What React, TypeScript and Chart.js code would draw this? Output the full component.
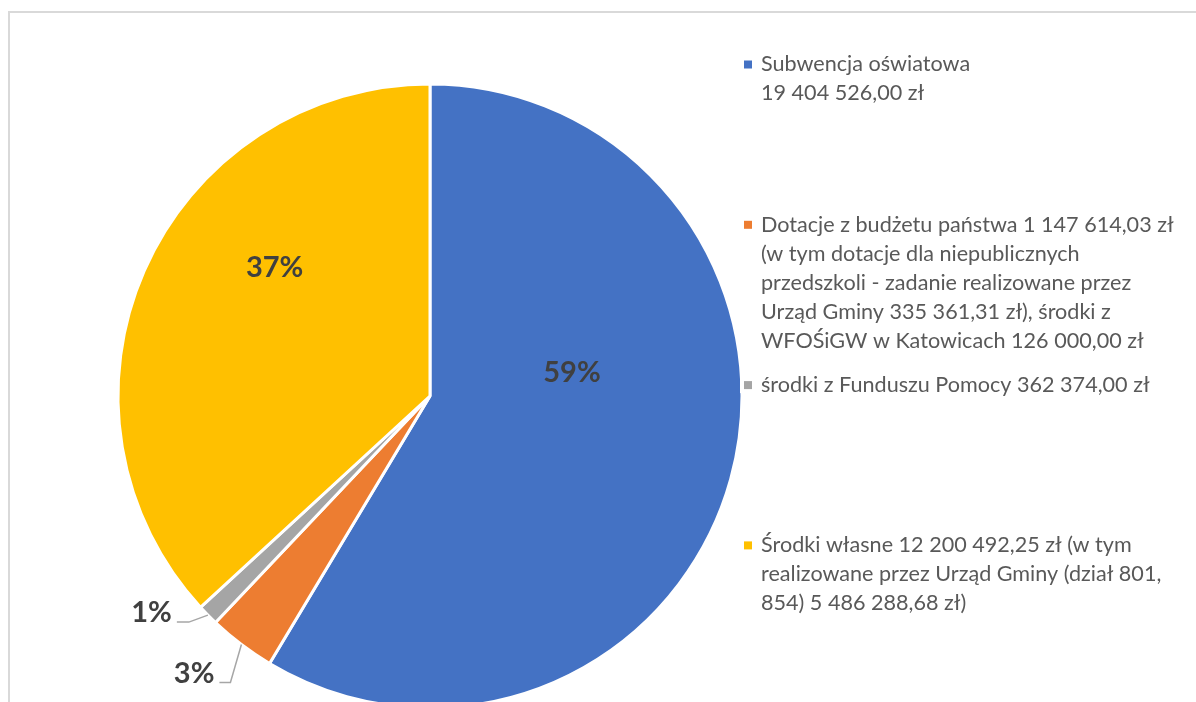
import React, { useEffect, useRef } from "react";
import { Chart, registerables } from "chart.js";

Chart.register(...registerables);

// ---- data ----
const categories: string[] = [
  "Subwencja oświatowa\n19 404 526,00 zł",
  "Dotacje z budżetu państwa 1 147 614,03 zł\n(w tym dotacje dla niepublicznych\nprzedszkoli - zadanie realizowane przez\nUrząd Gminy 335 361,31 zł), środki z\nWFOŚiGW w Katowicach 126 000,00 zł",
  "środki z Funduszu Pomocy 362 374,00 zł",
  "Środki własne 12 200 492,25 zł (w tym\nrealizowane przez Urząd Gminy (dział 801,\n854) 5 486 288,68 zł)",
];
const values: number[] = [19404526.0, 1147614.03, 362374.0, 12200492.25];
const colors: string[] = ["#4472C4", "#ED7D31", "#A5A5A5", "#FFC000"];

const FONT = "Lato, 'Open Sans', sans-serif";
const TEXT = "#595959";
const LABEL = "#404040";

const labelPlugin = {
  id: "excelLabels",
  afterDraw(chart: any, _args: any, opts: any) {
    const ctx = chart.ctx;
    const meta = chart.getDatasetMeta(0);
    const data = chart.data.datasets[0].data as number[];
    const total = data.reduce((a, b) => a + b, 0);
    ctx.save();
    // data labels
    meta.data.forEach((arc: any, i: number) => {
      const p = arc.getProps(["x", "y", "startAngle", "endAngle", "outerRadius"], true);
      const txt = Math.round((data[i] / total) * 100) + "%";
      ctx.font = `bold ${opts.pctSize}px ${FONT}`;
      ctx.fillStyle = LABEL;
      const inside = opts.inside[i];
      if (inside) {
        ctx.textAlign = "center";
        ctx.textBaseline = "middle";
        ctx.fillText(txt, p.x + inside.fx * p.outerRadius, p.y + inside.fy * p.outerRadius);
        return;
      }
      const out = opts.outside[i];
      if (out) {
        const mid = (p.startAngle + p.endAngle) / 2;
        const ex = p.x + Math.cos(mid) * p.outerRadius;
        const ey = p.y + Math.sin(mid) * p.outerRadius;
        const bx = ex + out.dx;
        const by = ey + out.dy;
        const hx = bx - out.h;
        ctx.strokeStyle = "#A6A6A6";
        ctx.lineWidth = 1.5;
        ctx.beginPath();
        ctx.moveTo(ex, ey);
        ctx.lineTo(bx, by);
        ctx.lineTo(hx, by);
        ctx.stroke();
        ctx.textAlign = "right";
        ctx.textBaseline = "alphabetic";
        ctx.fillText(txt, hx - 5, by);
      }
    });
    // legend
    ctx.font = `${opts.legendSize}px ${FONT}`;
    ctx.textAlign = "left";
    ctx.textBaseline = "middle";
    chart.data.labels.forEach((lab: string, i: number) => {
      const y0 = opts.legendTop + i * opts.legendGap;
      ctx.fillStyle = "#ffffff";
      ctx.fillRect(opts.legendX - 4, y0 - 8, 14, 16);
      ctx.fillStyle = colors[i];
      ctx.fillRect(opts.legendX, y0 - 4, 8, 8);
      ctx.fillStyle = TEXT;
      lab.split("\n").forEach((line, k) => {
        ctx.fillText(line, opts.legendX + 17, y0 + k * opts.lineH);
      });
    });
    ctx.restore();
  },
};

export default function App() {
  const ref = useRef<HTMLCanvasElement>(null);
  useEffect(() => {
    if (!ref.current) return;
    const chart = new Chart(ref.current, {
      type: "pie",
      data: {
        labels: categories,
        datasets: [
          {
            data: values,
            backgroundColor: colors,
            borderColor: "#ffffff",
            borderWidth: 3,
            hoverOffset: 0,
          },
        ],
      },
      options: {
        responsive: false,
        animation: false,
        events: [],
        layout: { padding: { left: 116.5, right: 452.5, top: 82.5, bottom: 90.5 } },
        plugins: {
          legend: { display: false },
          tooltip: { enabled: false },
          excelLabels: {
            pctSize: 29,
            inside: { 0: { fx: 0.455, fy: -0.075 }, 3: { fx: -0.498, fy: -0.41 } },
            outside: { 1: { dx: -11, dy: 38, h: 11 }, 2: { dx: -19, dy: 7, h: 12 } },
            legendX: 744,
            legendTop: 64.5,
            legendGap: 160.3,
            lineH: 29,
            legendSize: 21.6,
          },
        } as any,
      },
      plugins: [labelPlugin],
    });
    return () => chart.destroy();
  }, []);
  return (
    <div
      style={{
        position: "absolute",
        left: 0,
        top: 0,
        width: 1196,
        height: 702,
        overflow: "hidden",
        background: "#ffffff",
      }}
    >
      <div
        style={{
          position: "absolute",
          left: 8,
          top: 11,
          width: 1300,
          height: 900,
          border: "2px solid #D9D9D9",
          boxSizing: "border-box",
        }}
      />
      <canvas
        ref={ref}
        width={1196}
        height={800}
        style={{ position: "absolute", left: 0, top: 0, width: 1196, height: 800 }}
      />
    </div>
  );
}
